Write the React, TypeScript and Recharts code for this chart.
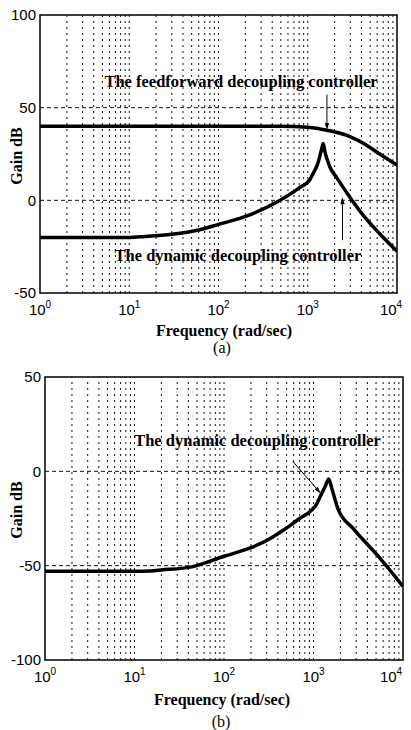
import React from 'react';
import { LineChart, Line, XAxis, YAxis, ReferenceLine, ReferenceArea, ReferenceDot } from 'recharts';

// log-frequency axis (rad/sec)
const FREQ_TICKS = [1, 10, 100, 1000, 10000];
const GRID_FREQS = [
  2, 3, 4, 5, 6, 7, 8, 9, 10,
  20, 30, 40, 50, 60, 70, 80, 90, 100,
  200, 300, 400, 500, 600, 700, 800, 900, 1000,
  2000, 3000, 4000, 5000, 6000, 7000, 8000, 9000,
];

// (a) feedforward decoupling controller
const FF_FREQ = [1, 10, 100, 500, 1000, 1640, 2750, 4600, 6400, 10000];
const FF_GAIN = [40, 40, 40, 40, 39.4, 37.8, 35, 29.6, 25, 19];

// (a) dynamic decoupling controller
const DYN_A_FREQ = [1, 10, 15, 30, 60, 100, 220, 490, 820, 1050, 1150, 1300, 1420, 1490, 1560, 1770, 2130, 2750, 4170, 6400, 10000];
const DYN_A_GAIN = [-20, -20, -19.5, -18.3, -16, -13, -8, 0, 7, 11, 14.5, 20, 27, 30.7, 26, 18, 12, 4, -8, -18, -27.5];

// (b) dynamic decoupling controller
const DYN_B_FREQ = [1, 10, 15, 20, 45, 100, 200, 333, 450, 556, 700, 930, 1080, 1200, 1350, 1480, 1600, 1880, 2800, 5200, 10000];
const DYN_B_GAIN = [-53, -53, -52.8, -52.3, -50.5, -45, -40.5, -35.5, -31.5, -28.5, -25, -21, -17.5, -13, -8, -4, -9, -20, -30.5, -44.6, -61];

const A_TICKS = [-50, 0, 50, 100];
const A_DASHED = [50, 0];
const B_TICKS = [-100, -50, 0, 50];
const B_DASHED = [0, -50];

const toRows = (f: number[], g: number[]) => f.map((x, i) => ({ f: x, g: g[i] }));

const SANS = 'Liberation Sans, Arial, sans-serif';
const SERIF = 'Liberation Serif, Times New Roman, serif';

const PowTick = (props: any) => {
  const { x, y, payload } = props;
  const exp = Math.round(Math.log10(payload.value));
  return (
    <text x={x} y={y + 20} textAnchor="middle" fontFamily={SANS} fontSize={15} fill="#000">
      10<tspan dy={-7} fontSize={10}>{exp}</tspan>
    </text>
  );
};

const Arrow = (p: any) => {
  const { x1, y1, x2, y2 } = p;
  const a = Math.atan2(y2 - y1, x2 - x1);
  const L = 7;
  const W = 2.2;
  const bx = x2 - L * Math.cos(a);
  const by = y2 - L * Math.sin(a);
  const pts = `${x2},${y2} ${bx + W * Math.sin(a)},${by - W * Math.cos(a)} ${bx - W * Math.sin(a)},${by + W * Math.cos(a)}`;
  return (
    <g>
      <line x1={x1} y1={y1} x2={bx} y2={by} stroke="#000" strokeWidth={1} />
      <polygon points={pts} fill="#000" />
    </g>
  );
};

const noteLabel = (text: string) => ({
  value: text,
  position: 'center' as const,
  fill: '#000',
  fontSize: 16.5,
  fontWeight: 700,
  fontFamily: SERIF,
});

const gridLines = (dashed: number[]) => [
  ...GRID_FREQS.map(f => (
    <ReferenceLine key={'v' + f} x={f} stroke="#111" strokeWidth={1} strokeDasharray="2 4" />
  )),
  ...dashed.map(v => (
    <ReferenceLine key={'h' + v} y={v} stroke="#111" strokeWidth={1} strokeDasharray="4 3" />
  )),
];

const textStyle: React.CSSProperties = {
  position: 'absolute',
  fontFamily: SERIF,
  fontWeight: 700,
  fontSize: 16,
  color: '#000',
  whiteSpace: 'nowrap',
  transform: 'translate(-50%, -50%)',
};

export default function App() {
  return (
    <div style={{ position: 'absolute', top: 0, left: 0, width: 411, height: 730, background: '#fff' }}>
      {/* (a) */}
      <div style={{ position: 'absolute', top: 0, left: 0 }}>
        <LineChart width={411} height={360} margin={{ top: 15, right: 14, bottom: 0, left: 0 }}>
          <XAxis
            dataKey="f"
            type="number"
            scale="log"
            domain={[1, 10000]}
            ticks={FREQ_TICKS}
            allowDataOverflow
            height={67}
            axisLine={false}
            tickLine={false}
            tickSize={0}
            tick={<PowTick />}
          />
          <YAxis
            type="number"
            domain={[-50, 100]}
            ticks={A_TICKS}
            width={40}
            axisLine={false}
            tickLine={false}
            tickSize={0}
            tickMargin={4}
            tick={{ fill: '#000', fontSize: 15, fontFamily: SANS }}
          />
          {gridLines(A_DASHED)}
          <ReferenceArea x1={1} x2={10000} y1={-50} y2={100} fill="none" stroke="#000" strokeWidth={1.5} />
          <Line data={toRows(FF_FREQ, FF_GAIN)} dataKey="g" type="monotone" stroke="#000" strokeWidth={3.5} dot={false} isAnimationActive={false} />
          <Line data={toRows(DYN_A_FREQ, DYN_A_GAIN)} dataKey="g" type="monotone" stroke="#000" strokeWidth={3.5} dot={false} isAnimationActive={false} />
          <ReferenceDot x={179} y={64.5} r={0} stroke="none" label={noteLabel('The feedforward decoupling controller')} />
          <ReferenceDot x={165} y={-29.6} r={0} stroke="none" label={noteLabel('The dynamic decoupling controller')} />
          <ReferenceLine segment={[{ x: 1640, y: 57 }, { x: 1640, y: 38 }]} ifOverflow="visible" shape={<Arrow />} />
          <ReferenceLine segment={[{ x: 2450, y: -21.5 }, { x: 2450, y: 1.6 }]} ifOverflow="visible" shape={<Arrow />} />
        </LineChart>
        <div style={{ ...textStyle, left: 17, top: 156, transform: 'translate(-50%, -50%) rotate(-90deg)' }}>Gain dB</div>
        <div style={{ ...textStyle, left: 224, top: 331 }}>Frequency (rad/sec)</div>
        <div style={{ ...textStyle, left: 222, top: 348, fontWeight: 400 }}>(a)</div>
      </div>

      {/* (b) */}
      <div style={{ position: 'absolute', top: 362, left: 0 }}>
        <LineChart width={411} height={368} margin={{ top: 15, right: 8, bottom: 0, left: 0 }}>
          <XAxis
            dataKey="f"
            type="number"
            scale="log"
            domain={[1, 10000]}
            ticks={FREQ_TICKS}
            allowDataOverflow
            height={70}
            axisLine={false}
            tickLine={false}
            tickSize={0}
            tick={<PowTick />}
          />
          <YAxis
            type="number"
            domain={[-100, 50]}
            ticks={B_TICKS}
            width={45}
            axisLine={false}
            tickLine={false}
            tickSize={0}
            tickMargin={4}
            tick={{ fill: '#000', fontSize: 15, fontFamily: SANS }}
          />
          {gridLines(B_DASHED)}
          <ReferenceArea x1={1} x2={10000} y1={-100} y2={50} fill="none" stroke="#000" strokeWidth={1.5} />
          <Line data={toRows(DYN_B_FREQ, DYN_B_GAIN)} dataKey="g" type="monotone" stroke="#000" strokeWidth={3.5} dot={false} isAnimationActive={false} />
          <ReferenceDot x={237} y={16.5} r={0} stroke="none" label={noteLabel('The dynamic decoupling controller')} />
          <ReferenceLine segment={[{ x: 586, y: 5.3 }, { x: 1205, y: -11.7 }]} ifOverflow="visible" shape={<Arrow />} />
        </LineChart>
        <div style={{ ...textStyle, left: 17, top: 148, transform: 'translate(-50%, -50%) rotate(-90deg)' }}>Gain dB</div>
        <div style={{ ...textStyle, left: 222, top: 338 }}>Frequency (rad/sec)</div>
        <div style={{ ...textStyle, left: 221, top: 360, fontWeight: 400 }}>(b)</div>
      </div>
    </div>
  );
}
